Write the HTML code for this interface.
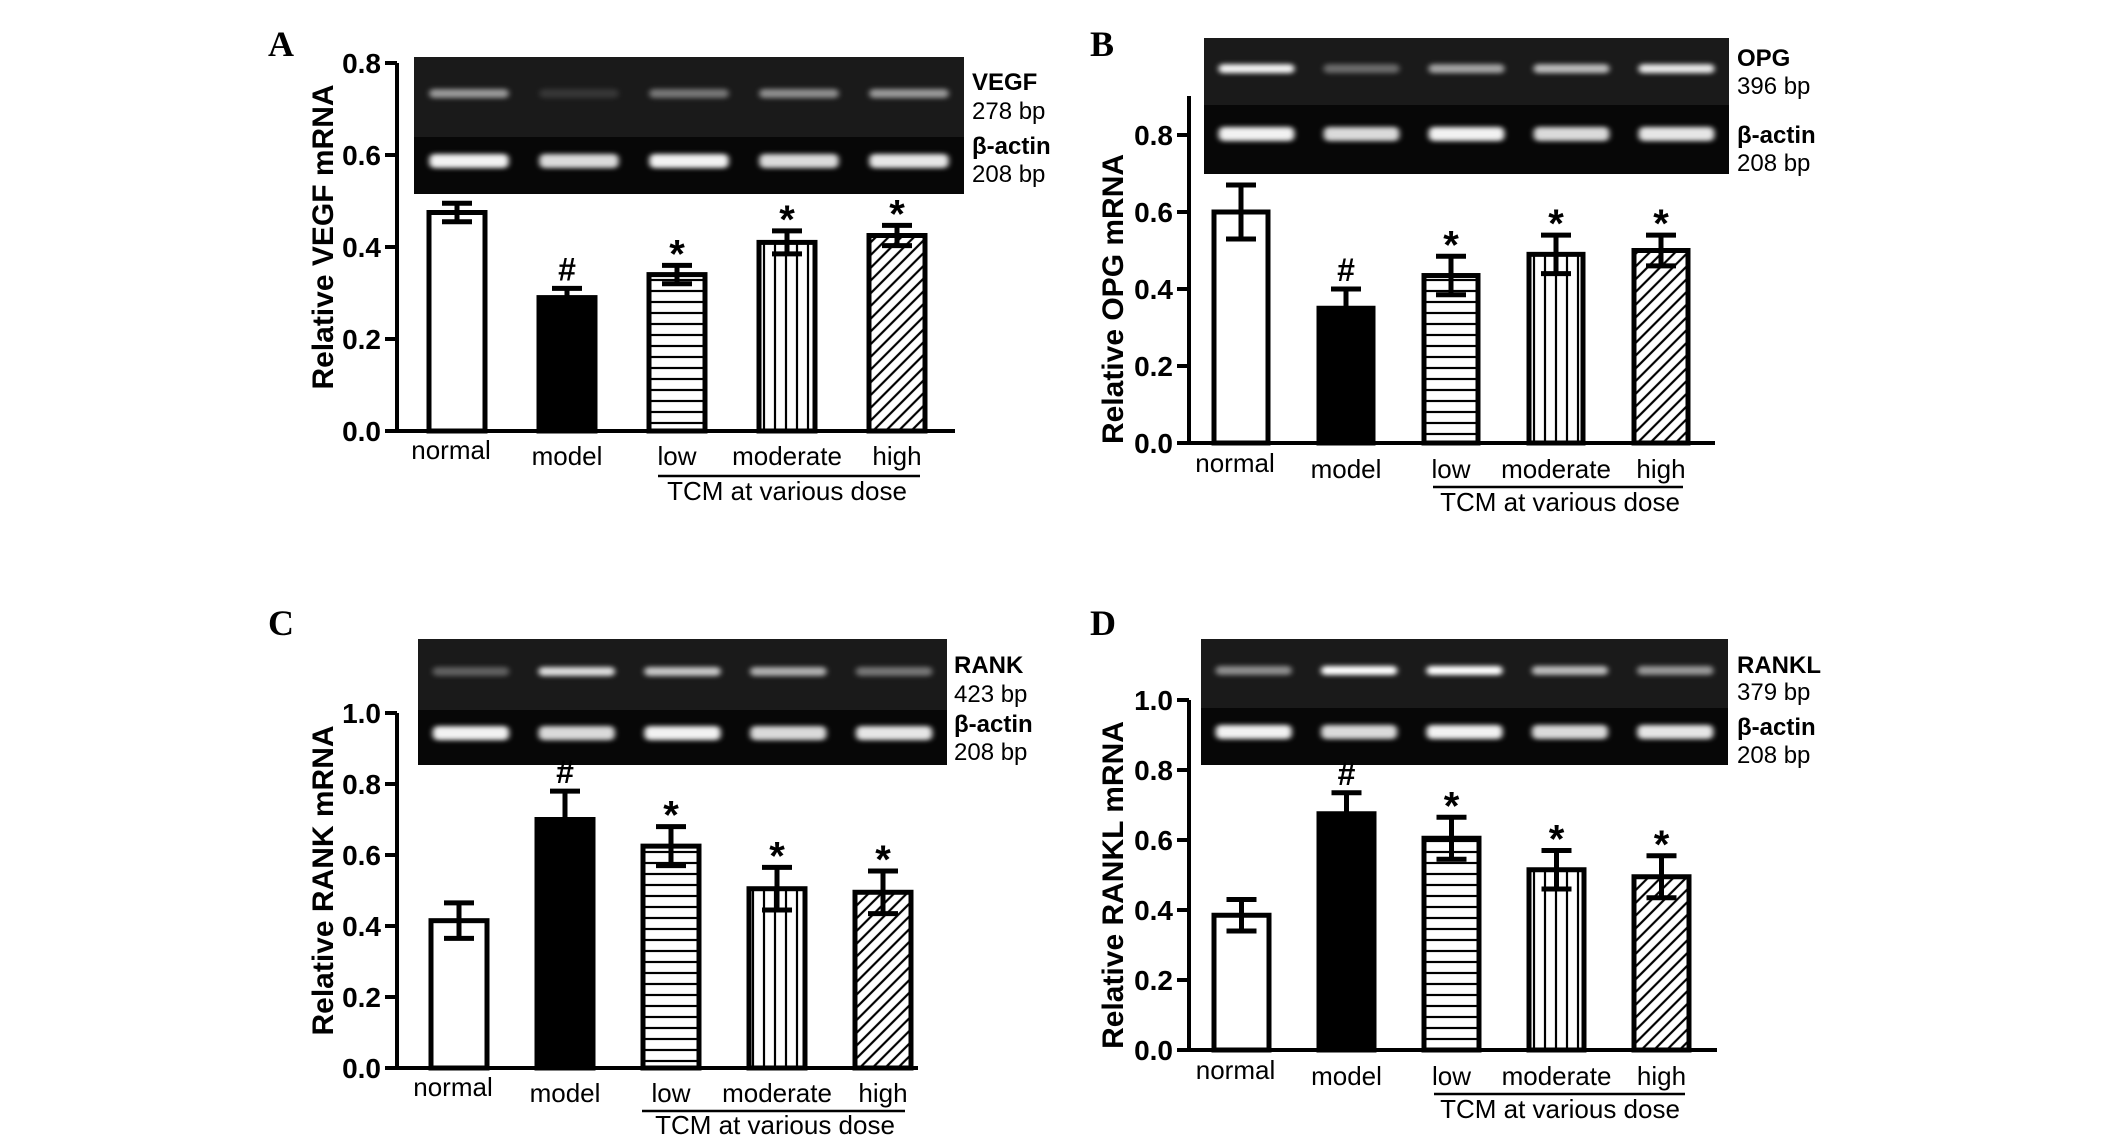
<!DOCTYPE html>
<html><head><meta charset="utf-8">
<style>
html,body{margin:0;padding:0;background:#fff;}
svg{display:block;}
text{font-family:"Liberation Sans",Arial,sans-serif;}
text.serif{font-family:"Liberation Serif","Times New Roman",serif;}
</style></head>
<body>
<svg id="fig" width="2126" height="1139" viewBox="0 0 2126 1139" xmlns="http://www.w3.org/2000/svg">
<defs>
<pattern id="pH" patternUnits="userSpaceOnUse" width="10" height="11"><rect width="10" height="11" fill="#fff"/><line x1="0" y1="5" x2="10" y2="5" stroke="#000" stroke-width="2.2"/></pattern>
<pattern id="pV" patternUnits="userSpaceOnUse" width="11" height="10"><rect width="11" height="10" fill="#fff"/><line x1="5" y1="0" x2="5" y2="10" stroke="#000" stroke-width="2.2"/></pattern>
<pattern id="pD" patternUnits="userSpaceOnUse" width="9" height="9" patternTransform="rotate(45)"><rect width="9" height="9" fill="#fff"/><line x1="4" y1="0" x2="4" y2="9" stroke="#000" stroke-width="2.2"/></pattern>
<filter id="blur" x="-20%" y="-100%" width="140%" height="300%"><feGaussianBlur stdDeviation="3 2.5"/></filter>
</defs>
</svg>
<script>
// ---- data ----
const categories = ["normal","model","low","moderate","high"];
const vegfValues = [0.475,0.29,0.34,0.41,0.425];
const vegfErrors = [0.02,0.02,0.02,0.025,0.022];
const opgValues = [0.60,0.35,0.435,0.49,0.50];
const opgErrors = [0.07,0.05,0.05,0.05,0.04];
const rankValues = [0.415,0.70,0.625,0.505,0.495];
const rankErrors = [0.05,0.08,0.055,0.06,0.06];
const ranklValues = [0.385,0.675,0.605,0.515,0.495];
const ranklErrors = [0.045,0.06,0.06,0.055,0.06];
const marks = ["","#","*","*","*"];
const ticksA = [0,0.2,0.4,0.6,0.8];
const ticksB = [0,0.2,0.4,0.6,0.8];
const ticksC = [0,0.2,0.4,0.6,0.8,1.0];
const ticksD = [0,0.2,0.4,0.6,0.8,1.0];
const bandVEGF = [0.55,0.12,0.4,0.5,0.55];
const bandOPG = [0.95,0.35,0.6,0.7,0.9];
const bandRANK = [0.3,0.85,0.75,0.65,0.4];
const bandRANKL = [0.5,1.0,1.0,0.7,0.55];
const bandActin = [0.95,0.85,0.95,0.85,0.9];

const NS="http://www.w3.org/2000/svg";
const svg=document.getElementById('fig');
function el(tag,attrs,parent){const e=document.createElementNS(NS,tag);for(const k in attrs)e.setAttribute(k,attrs[k]);(parent||svg).appendChild(e);return e;}
function txt(s,attrs,parent){const e=el('text',attrs,parent);e.textContent=s;return e;}
const fills=["#fff","#000","url(#pH)","url(#pV)","url(#pD)"];

const panels=[
 {key:"A",gene:"VEGF",bp:"278 bp",title:"Relative VEGF mRNA",vals:vegfValues,errs:vegfErrors,ticks:ticksA,band:bandVEGF,ymax:0.8,
  ax:397,y0:431,yTop:63,axTop:63,axEnd:955,b0:429,bs:110,bw:56,
  gel:[414,57,964,194,137],lblX:972,lblY:[90,119,154,182],catY:462,ulY:476,ulX:[658,920],tcmY:500,tcmX:787,letter:[268,56],titleX:333},
 {key:"B",gene:"OPG",bp:"396 bp",title:"Relative OPG mRNA",vals:opgValues,errs:opgErrors,ticks:ticksB,ymax:0.8,band:bandOPG,
  ax:1189,y0:443,yTop:135,axTop:96,axEnd:1715,b0:1214,bs:105,bw:54,
  gel:[1204,38,1729,174,105],lblX:1737,lblY:[66,94,143,171],catY:475,ulY:487,ulX:[1433,1683],tcmY:511,tcmX:1560,letter:[1090,56],titleX:1123},
 {key:"C",gene:"RANK",bp:"423 bp",title:"Relative RANK mRNA",vals:rankValues,errs:rankErrors,ticks:ticksC,ymax:1.0,band:bandRANK,
  ax:397,y0:1068,yTop:713,axTop:713,axEnd:918,b0:431,bs:106,bw:56,
  gel:[418,639,947,765,710],lblX:954,lblY:[673,702,732,760],catY:1099,ulY:1111,ulX:[642,905],tcmY:1134,tcmX:775,letter:[268,635],titleX:333},
 {key:"D",gene:"RANKL",bp:"379 bp",title:"Relative RANKL mRNA",vals:ranklValues,errs:ranklErrors,ticks:ticksD,ymax:1.0,band:bandRANKL,
  ax:1189,y0:1050,yTop:700,axTop:700,axEnd:1717,b0:1214,bs:105,bw:55,
  gel:[1201,639,1728,765,708],lblX:1737,lblY:[673,700,735,763],catY:1082,ulY:1094,ulX:[1434,1685],tcmY:1118,tcmX:1560,letter:[1090,635],titleX:1123}
];

panels.forEach(p=>{
  const g=el('g',{});
  
  
  const ys=v=>p.y0-(v/p.ymax)*(p.y0-p.yTop);
  const L=txt(p.key,{x:p.letter[0],y:p.letter[1],'class':'serif','font-weight':'bold','font-size':36},g);
  
  
  const [gx1,gy1,gx2,gy2,gsp]=p.gel;
  const gel=el('g',{},g);
  
  
  el('rect',{x:gx1,y:gy1,width:gx2-gx1,height:gsp-gy1,fill:'#1a1a1a'},gel);
  el('rect',{x:gx1,y:gsp,width:gx2-gx1,height:gy2-gsp,fill:'#070707'},gel);
  const lw=(gx2-gx1)/5;
  categories.forEach((c,i)=>{
    const cx=gx1+lw*(i+0.5);
    const b1=el('rect',{x:cx-lw*0.36,y:gy1+(gsp-gy1)*0.45-4,width:lw*0.72,height:9,rx:4,fill:'#fff',opacity:p.band[i],filter:'url(#blur)'},gel);
    
    
    const b2=el('rect',{x:cx-lw*0.36,y:gsp+(gy2-gsp)*0.42-7,width:lw*0.72,height:14,rx:5,fill:'#fff',opacity:bandActin[i],filter:'url(#blur)'},gel);
    
    
  });
  [[p.gene,true],[p.bp,false],["β-actin",true],["208 bp",false]].forEach((t,i)=>{
    const e=txt(t[0],{x:p.lblX,y:p.lblY[i],'font-size':24,'font-weight':t[1]?'bold':'normal'},g);
    
    
  });
  const ya=el('line',{x1:p.ax,y1:p.axTop,x2:p.ax,y2:p.y0,stroke:'#000','stroke-width':4},g);
  
  
  const xa=el('line',{x1:p.ax-12,y1:p.y0,x2:p.axEnd,y2:p.y0,stroke:'#000','stroke-width':4},g);
  
  
  p.ticks.forEach(t=>{
    const y=ys(t);
    el('line',{x1:p.ax-12,y1:y,x2:p.ax,y2:y,stroke:'#000','stroke-width':4},g);
    const tl=txt(t.toFixed(1),{x:p.ax-16,y:y+10,'text-anchor':'end','font-size':28,'font-weight':'bold'},g);
    
    
  });
  const tt=txt(p.title,{x:0,y:0,'text-anchor':'middle','font-size':30,'font-weight':'bold',transform:`translate(${p.titleX},${(p.y0+p.yTop)/2+ (p.key==='A'||p.key==='C'?-10:10)}) rotate(-90)`},g);
  
  
  categories.forEach((c,i)=>{
    const x=p.b0+p.bs*i, v=p.vals[i], e=p.errs[i];
    const yt=ys(v), cx=x+p.bw/2;
    const r=el('rect',{x:x,y:yt,width:p.bw,height:p.y0-yt,fill:fills[i],stroke:'#000','stroke-width':5},g);
    
    
    const eb=el('path',{d:`M${cx},${ys(v+e)}V${ys(v-e)}M${cx-15},${ys(v+e)}H${cx+15}M${cx-15},${ys(v-e)}H${cx+15}`,stroke:'#000','stroke-width':5,fill:'none'},g);
    
    
    if(marks[i]){
      const m=txt(marks[i],{x:cx,y:ys(v+e)-(marks[i]==='#'?8:-2),'text-anchor':'middle','font-size':marks[i]==='#'?32:40,'font-weight':'bold'},g);
      
      
    }
    const cl=txt(c,{x:cx+(i==0?-6:0),y:p.catY+(i==0?-3:3),'text-anchor':'middle','font-size':26},g);
    
    
  });
  const ul=el('line',{x1:p.ulX[0],y1:p.ulY,x2:p.ulX[1],y2:p.ulY,stroke:'#000','stroke-width':2.5},g);
  
  
  const tc=txt('TCM at various dose',{x:p.tcmX,y:p.tcmY,'text-anchor':'middle','font-size':26},g);
  
  
});
</script>
</body></html>
